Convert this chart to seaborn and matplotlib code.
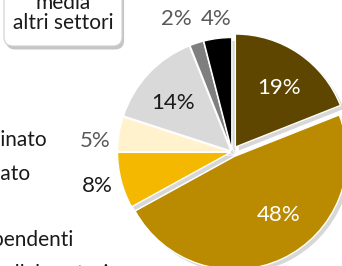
import matplotlib
matplotlib.use("Agg")
import matplotlib.pyplot as plt
import matplotlib.patheffects as pe
from matplotlib.patches import FancyBboxPatch
import seaborn as sns

# data
shares = [19, 48, 8, 5, 14, 2, 4]
pct_labels = ["19%", "48%", "8%", "5%", "14%", "2%", "4%"]
slice_colors = ["#5E4600", "#BA8B00", "#F4B800", "#FFF2CC", "#D9D9D9", "#7F7F7F", "#000000"]
label_colors = ["white", "white", "#1a1a1a", "#595959", "#1a1a1a", "#595959", "#595959"]
side_labels = ["tempo indeterminato", "tempo determinato", "indipendenti", "collaboratori"]
box_text = "media\naltri settori"

# layout (pixel space, y from top)
W, H = 342, 266
center = (232, 152)
radius = 113
explode = [6, 5, 1.5, 1.5, 1.5, 1.5, 1.5]   # in pixels (pie uses data units)
label_pos = [(279, 88), (279, 215), (97, 186), (95, 141), (173, 103), (176, 19), (216, 19)]
side_pos = [(47, 140), (30, 174), (74, 240), (108, 274)]

sns.set_theme(style="white")
plt.rcParams["font.family"] = ["Lato", "DejaVu Sans"]

fig = plt.figure(figsize=(W / 100, H / 100), dpi=100)
ax = fig.add_axes([0, 0, 1, 1])
palette = sns.color_palette(slice_colors)

wedges, _ = ax.pie(
    shares,
    colors=palette,
    startangle=90,
    counterclock=False,
    radius=radius,
    center=(center[0], H - center[1]),
    explode=explode,
    wedgeprops=dict(edgecolor="white", linewidth=1.0),
    shadow=dict(ox=2.5, oy=-2.5, facecolor="#a8a8a8", edgecolor="none", alpha=0.45),
    frame=True,
)
ax.set_xlim(0, W)
ax.set_ylim(0, H)
ax.axis("off")

for txt, (x, y), c in zip(pct_labels, label_pos, label_colors):
    ax.text(x, H - y, txt, color=c, fontsize=16, ha="center", va="center")

for txt, (x, y) in zip(side_labels, side_pos):
    ax.text(x, H - y, txt, color="#1a1a1a", fontsize=15, ha="right", va="center")

# rounded box top left
box = FancyBboxPatch((4, H - 46), 118, 70, boxstyle="round,pad=0,rounding_size=9",
                     facecolor="white", edgecolor="#d0d0d0", linewidth=0.8,
                     path_effects=[pe.SimplePatchShadow(offset=(1.5, -2.5), shadow_rgbFace="#808080", alpha=0.45),
                                   pe.Normal()])
ax.add_patch(box)
ax.text(63, H - 13, box_text, color="#1a1a1a", fontsize=15, ha="center", va="center",
        linespacing=0.95)

fig.savefig("out.png", dpi=100)
